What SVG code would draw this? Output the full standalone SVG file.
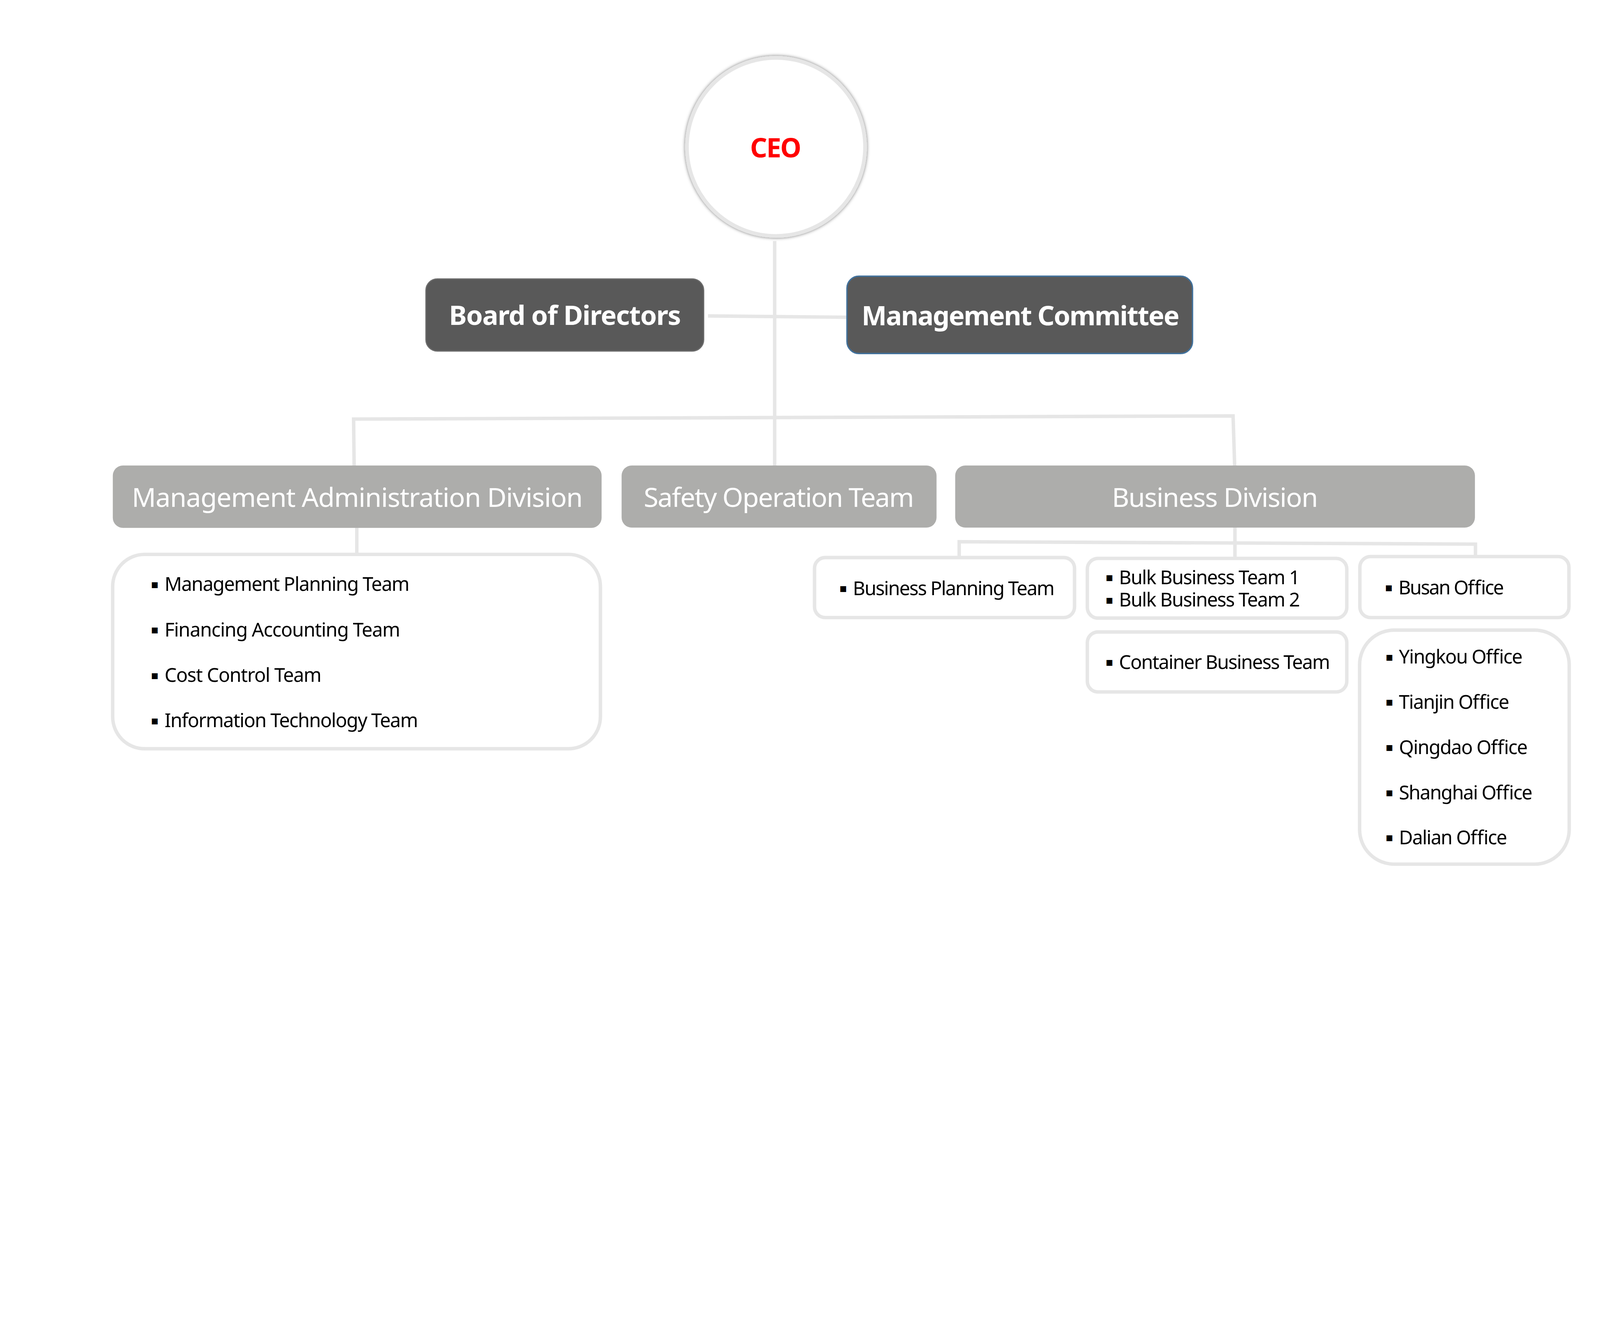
<svg xmlns="http://www.w3.org/2000/svg" width="6000" height="3375" viewBox="0 0 6000 3375" preserveAspectRatio="xMinYMin meet" style="width:100vw;height:100vh;display:block">
<style>
.bg{fill:#ffffff}
.conn{fill:none;stroke:#e6e6e6;stroke-width:13;stroke-linejoin:miter}
.dark{fill:#595959}
.div{fill:#adadab}
.list{fill:#ffffff;stroke:#e6e6e6;stroke-width:13}
.t{font-family:"Noto Sans","Open Sans","DejaVu Sans",sans-serif}
.head{font-size:100px;font-weight:700;fill:#ffffff;text-anchor:middle}
.divt{font-size:100px;font-weight:400;fill:#ffffff;text-anchor:middle}
.item{font-size:72px;fill:#000000}
.bul{font-family:"DejaVu Sans",sans-serif;font-size:44px;fill:#000000}
</style>
<defs>
<filter id="glow" x="-20%" y="-20%" width="140%" height="140%">
<feDropShadow dx="0" dy="0" stdDeviation="6" flood-color="#000000" flood-opacity="0.55"/>
</filter>
</defs>
<rect class="bg" x="0" y="0" width="6000" height="3375"/>
<g id="connectors">
<line class="conn" x1="2905" y1="904" x2="2905" y2="1748"/>
<line class="conn" x1="2655" y1="1185" x2="3176" y2="1190"/>
<polyline class="conn" points="1328,1748 1326,1572 4624,1560 4630,1748"/>
<line class="conn" x1="1338" y1="1978" x2="1338" y2="2075"/>
<line class="conn" x1="4631" y1="1978" x2="4631" y2="2090"/>
<polyline class="conn" points="3597,2087 3597,2032 5533,2041 5533,2083"/>
</g>
<g id="ceo">
<circle cx="2910" cy="551" r="334" fill="#ffffff" stroke="#e6e6e6" stroke-width="14" filter="url(#glow)"/>
<text class="t" x="2909" y="590" font-size="100" font-weight="700" fill="#ff0000" text-anchor="middle" textLength="192">CEO</text>
</g>
<g id="board">
<rect class="dark" x="1597" y="1046" width="1042" height="271" rx="43" stroke="#6e6e6e" stroke-width="4"/>
<text class="t head" x="2119" y="1219" textLength="870">Board of Directors</text>
</g>
<g id="committee">
<rect class="dark" x="3176" y="1036" width="1296" height="290" rx="45" stroke="#41719c" stroke-width="5"/>
<text class="t head" x="3827" y="1220" textLength="1192">Management Committee</text>
</g>
<g id="mad">
<rect class="div" x="423" y="1746" width="1833" height="234" rx="38"/>
<text class="t divt" x="1340" y="1901" textLength="1691">Management Administration Division</text>
</g>
<g id="safety">
<rect class="div" x="2331" y="1746" width="1181" height="233" rx="38"/>
<text class="t divt" x="2921" y="1901" textLength="1014">Safety Operation Team</text>
</g>
<g id="business">
<rect class="div" x="3582" y="1746" width="1949" height="233" rx="38"/>
<text class="t divt" x="4556" y="1901" textLength="773">Business Division</text>
</g>
<g id="mad-teams">
<rect class="list" x="422.5" y="2079.5" width="1829" height="729" rx="120"/>
<text class="bul" x="565" y="2206">▪</text><text class="t item" x="617" y="2217" textLength="919">Management Planning Team</text>
<text class="bul" x="565" y="2376">▪</text><text class="t item" x="617" y="2387" textLength="884">Financing Accounting Team</text>
<text class="bul" x="565" y="2547">▪</text><text class="t item" x="617" y="2558" textLength="589">Cost Control Team</text>
<text class="bul" x="565" y="2717">▪</text><text class="t item" x="617" y="2728" textLength="951">Information Technology Team</text>
</g>
<g id="planning">
<rect class="list" x="3054.5" y="2091.5" width="975" height="225" rx="40"/>
<text class="bul" x="3147" y="2221">▪</text><text class="t item" x="3198" y="2232" textLength="757">Business Planning Team</text>
</g>
<g id="bulk">
<rect class="list" x="4077.5" y="2094.5" width="973" height="224" rx="40"/>
<text class="bul" x="4145" y="2180">▪</text><text class="t item" x="4196" y="2191" textLength="679">Bulk Business Team 1</text>
<text class="bul" x="4145" y="2264">▪</text><text class="t item" x="4196" y="2275" textLength="679">Bulk Business Team 2</text>
</g>
<g id="busan">
<rect class="list" x="5099.5" y="2087.5" width="784" height="229" rx="40"/>
<text class="bul" x="5193" y="2218">▪</text><text class="t item" x="5244" y="2229" textLength="396">Busan Office</text>
</g>
<g id="container">
<rect class="list" x="4077.5" y="2370.5" width="973" height="225" rx="40"/>
<text class="bul" x="4145" y="2498">▪</text><text class="t item" x="4196" y="2509" textLength="792">Container Business Team</text>
</g>
<g id="offices">
<rect class="list" x="5098.5" y="2363.5" width="786" height="878" rx="130"/>
<text class="bul" x="5195" y="2478">▪</text><text class="t item" x="5246" y="2489" textLength="464">Yingkou Office</text>
<text class="bul" x="5195" y="2647">▪</text><text class="t item" x="5246" y="2658" textLength="414">Tianjin Office</text>
<text class="bul" x="5195" y="2817">▪</text><text class="t item" x="5246" y="2828" textLength="483">Qingdao Office</text>
<text class="bul" x="5195" y="2987">▪</text><text class="t item" x="5246" y="2998" textLength="501">Shanghai Office</text>
<text class="bul" x="5195" y="3156">▪</text><text class="t item" x="5246" y="3167" textLength="406">Dalian Office</text>
</g>
</svg>
